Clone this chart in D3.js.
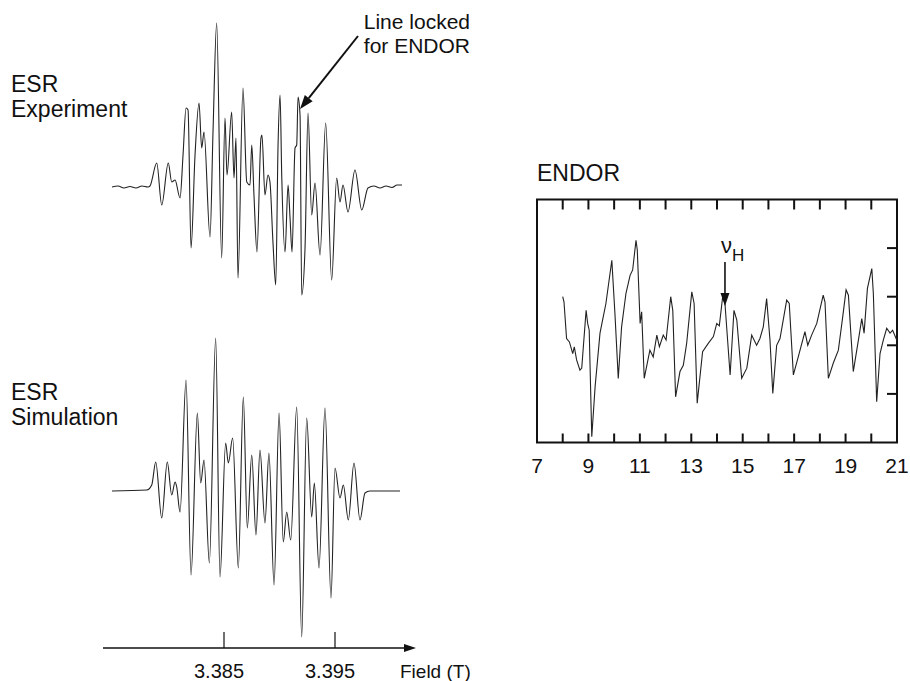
<!DOCTYPE html>
<html>
<head>
<meta charset="utf-8">
<script src="https://cdn.jsdelivr.net/npm/d3@7"></script>
<style>
  body { margin: 0; background: #fff; }
  text { font-family: "Liberation Sans", Arial, Helvetica, sans-serif; fill: #111; }
</style>
</head>
<body>
<script>
// ESR spectra: field in tesla, signal in arbitrary units
const expField = [3.37491, 3.37545, 3.37599, 3.37653, 3.37707, 3.37761, 3.37815, 3.37833, 3.37894, 3.37939,
  3.37998, 3.38029, 3.38059, 3.38104, 3.38131, 3.38158, 3.38176, 3.38203, 3.38239, 3.38275,
  3.38299, 3.38320, 3.38374, 3.38401, 3.38434, 3.38479, 3.38509, 3.38527, 3.38569, 3.38590,
  3.38608, 3.38626, 3.38671, 3.38705, 3.38734, 3.38750, 3.38770, 3.38797, 3.38833, 3.38842,
  3.38869, 3.38896, 3.38914, 3.38941, 3.38966, 3.38987, 3.39005, 3.39020, 3.39050, 3.39077,
  3.39095, 3.39113, 3.39140, 3.39155, 3.39167, 3.39185, 3.39200, 3.39230, 3.39257, 3.39290,
  3.39320, 3.39365, 3.39416, 3.39470, 3.39515, 3.39545, 3.39572, 3.39617, 3.39680, 3.39741,
  3.39797, 3.39851, 3.39905, 3.39960, 3.40014, 3.40059, 3.40104];
const expSignal = [0, 0.1, -0.1, 0.05, -0.1, 0.1, 0, 0.1, 2.4, -1.8,
  2.4, 0.5, 0.7, -1.1, 3.2, 7.9, 7.7, -6.1, 3.2, 8.4,
  3.9, 5.5, -5.0, 5.5, 16.4, -7.1, 6.9, 1.2, 7.5, 0.9,
  4.9, -9.1, 9.9, 0.5, 0.2, 4.2, -0.8, -6.5, 4.9, 5.2,
  -0.8, 1.2, 0.5, -5.5, -9.8, 4.2, 9.2, 1.2, -6.5, 0.2,
  -3.1, -6.5, 3.9, 4.2, 9.0, 7.2, -10.8, -6.1, 7.4, -2.8,
  0.4, -6.8, 6.4, -9.3, 0.9, -1.5, 0.2, -2.5, 1.7, -2.3,
  -0.1, 0.1, -0.1, 0.1, -0.05, 0.2, 0.2];

const simField = [3.37491, 3.37804, 3.37849, 3.37885, 3.37939, 3.37989, 3.38029, 3.38059, 3.38074, 3.38104,
  3.38158, 3.38203, 3.38260, 3.38290, 3.38320, 3.38368, 3.38425, 3.38464, 3.38515, 3.38539,
  3.38578, 3.38629, 3.38674, 3.38710, 3.38750, 3.38788, 3.38824, 3.38869, 3.38905, 3.38951,
  3.38996, 3.39034, 3.39065, 3.39101, 3.39155, 3.39200, 3.39245, 3.39290, 3.39314, 3.39356,
  3.39410, 3.39464, 3.39500, 3.39545, 3.39575, 3.39620, 3.39671, 3.39725, 3.39770, 3.39815,
  3.40086];
const simSignal = [0, 0.1, 0.6, 2.9, -2.7, 2.9, -0.4, 0.9, 0.4, -2.1,
  11.1, -8.4, 7.8, 0.8, 3.1, -7.2, 15.3, -8.6, 4.8, 2.8,
  5.3, -7.7, 9.4, -3.7, 3.6, -4.4, 4.1, -3.2, 3.8, -9.4,
  7.8, -5.1, -2.1, -4.9, 8.4, -14.6, 7.3, -2.6, 0.8, -7.7,
  8.3, -10.7, 2.3, -0.7, 0.6, -2.9, 2.8, -2.9, -0.2, 0,
  0];

const fieldTicks = [3.385, 3.395];

// ENDOR spectrum: frequency in MHz, signal in arbitrary units
const endorFreq = [8.00, 8.05, 8.15, 8.26, 8.39, 8.45, 8.54, 8.67, 8.74, 8.91,
  8.97, 9.03, 9.13, 9.26, 9.45, 9.55, 9.68, 9.91, 10.03, 10.16,
  10.29, 10.46, 10.62, 10.72, 10.85, 10.90, 11.01, 11.07, 11.17, 11.39,
  11.52, 11.66, 11.76, 11.91, 12.02, 12.20, 12.28, 12.39, 12.56, 12.69,
  12.82, 13.02, 13.11, 13.23, 13.44, 13.66, 13.86, 13.99, 14.09, 14.22,
  14.31, 14.51, 14.66, 14.77, 14.96, 15.16, 15.35, 15.54, 15.67, 15.80,
  15.93, 16.06, 16.17, 16.32, 16.45, 16.71, 16.81, 16.97, 17.16, 17.42,
  17.53, 17.68, 17.88, 18.13, 18.20, 18.33, 18.52, 18.72, 18.89, 19.02,
  19.11, 19.30, 19.50, 19.63, 19.72, 19.85, 20.02, 20.08, 20.21, 20.34,
  20.47, 20.60, 20.73, 20.83, 20.99];
const endorSignal = [3.00, 2.89, 2.14, 2.07, 1.83, 1.97, 1.70, 1.49, 1.53, 2.72,
  2.45, 2.31, 0.12, 1.15, 2.25, 2.52, 2.86, 3.75, 2.66, 1.32,
  2.38, 3.07, 3.44, 3.55, 4.16, 3.96, 2.45, 2.69, 1.32, 1.90,
  1.76, 2.21, 1.97, 2.21, 2.11, 3.00, 2.72, 0.94, 1.46, 1.59,
  2.04, 3.10, 2.86, 0.81, 1.87, 2.04, 2.18, 2.45, 2.40, 3.00,
  2.86, 1.39, 2.72, 2.52, 1.32, 1.53, 2.21, 2.00, 2.14, 2.38,
  2.96, 2.11, 1.01, 2.00, 2.14, 2.93, 2.86, 1.39, 1.76, 2.28,
  2.00, 2.21, 2.45, 3.03, 2.89, 1.32, 1.63, 1.90, 2.59, 3.14,
  3.03, 1.46, 2.11, 2.55, 2.25, 3.17, 3.58, 3.07, 0.84, 1.83,
  2.11, 2.35, 2.25, 2.31, 2.11];

const endorLabels = [7, 9, 11, 13, 15, 17, 19, 21];
const endorMinor = [8, 9, 10, 11, 12, 13, 14, 15, 16, 17, 18, 19, 20];
const endorYTicks = [1, 2, 3, 4];
const nuH = 14.31;

const svg = d3.select("body").append("svg")
  .attr("width", 910)
  .attr("height", 681);

// ---- ESR panels ----
const xB = d3.scaleLinear().domain([3.385, 3.395]).range([224, 335]);
const yExp = d3.scaleLinear().domain([-10, 10]).range([287, 87]);
const ySim = d3.scaleLinear().domain([-10, 10]).range([591, 391]);

function esrLine (field, sig, y) {
  return d3.line()
    .x((d, i) => xB(field[i]))
    .y(d => y(d))
    .curve(d3.curveMonotoneX)(sig);
}

svg.append("path")
  .attr("d", esrLine(expField, expSignal, yExp))
  .attr("fill", "none")
  .attr("stroke", "#222")
  .attr("stroke-width", 1.1);

svg.append("path")
  .attr("d", esrLine(simField, simSignal, ySim))
  .attr("fill", "none")
  .attr("stroke", "#222")
  .attr("stroke-width", 1.1);

// labels
function twoLines (x, y, a, b) {
  const t = svg.append("text").attr("x", x).attr("y", y).style("font-size", "23px");
  t.append("tspan").attr("x", x).text(a);
  t.append("tspan").attr("x", x).attr("dy", 25).text(b);
}
twoLines(11, 92, "ESR", "Experiment");
twoLines(11, 400, "ESR", "Simulation");

// field axis with arrow
const axY = 648;
svg.append("line")
  .attr("x1", 103).attr("x2", 408)
  .attr("y1", axY).attr("y2", axY)
  .attr("stroke", "#111").attr("stroke-width", 1.3);
svg.append("path")
  .attr("d", `M416,${axY} L404,${axY - 4} L404,${axY + 4} Z`)
  .attr("fill", "#111");

svg.selectAll(".ftick")
  .data(fieldTicks)
  .enter().append("line")
  .attr("x1", d => xB(d)).attr("x2", d => xB(d))
  .attr("y1", axY).attr("y2", axY - 16)
  .attr("stroke", "#111").attr("stroke-width", 1.2);

svg.selectAll(".flabel")
  .data(fieldTicks)
  .enter().append("text")
  .attr("x", d => xB(d) - 5)
  .attr("y", 678)
  .attr("text-anchor", "middle")
  .style("font-size", "20px")
  .text(d => d3.format(".3f")(d));

svg.append("text")
  .attr("x", 400).attr("y", 678)
  .style("font-size", "19px")
  .text("Field (T)");

// "Line locked for ENDOR" annotation
svg.append("text").attr("x", 470).attr("y", 29)
  .attr("text-anchor", "end").style("font-size", "21px").text("Line locked");
svg.append("text").attr("x", 470).attr("y", 53)
  .attr("text-anchor", "end").style("font-size", "21px").text("for ENDOR");

const tip = [xB(3.39167) + 2, yExp(9.0) + 12];
const tail = [358, 36];
const ang = Math.atan2(tip[1] - tail[1], tip[0] - tail[0]);
const hl = 14, hw = 5;
const bx = tip[0] - hl * Math.cos(ang), by = tip[1] - hl * Math.sin(ang);
svg.append("line")
  .attr("x1", tail[0]).attr("y1", tail[1])
  .attr("x2", bx).attr("y2", by)
  .attr("stroke", "#111").attr("stroke-width", 2);
svg.append("path")
  .attr("d", `M${tip[0]},${tip[1]} L${bx + hw * Math.sin(ang)},${by - hw * Math.cos(ang)} L${bx - hw * Math.sin(ang)},${by + hw * Math.cos(ang)} Z`)
  .attr("fill", "#111");

// ---- ENDOR panel ----
const xE = d3.scaleLinear().domain([7, 21]).range([537, 897]);
const yE = d3.scaleLinear().domain([0, 5]).range([442.5, 199.5]);

svg.append("text")
  .attr("x", 537).attr("y", 181)
  .style("font-size", "23px")
  .text("ENDOR");

svg.append("rect")
  .attr("x", xE(7)).attr("y", yE(5))
  .attr("width", xE(21) - xE(7))
  .attr("height", yE(0) - yE(5))
  .attr("fill", "none")
  .attr("stroke", "#111")
  .attr("stroke-width", 2);

svg.selectAll(".etb")
  .data(endorMinor)
  .enter().append("line")
  .attr("x1", d => xE(d)).attr("x2", d => xE(d))
  .attr("y1", yE(0)).attr("y2", yE(0) - 9)
  .attr("stroke", "#111").attr("stroke-width", 2);

svg.selectAll(".ett")
  .data(endorMinor)
  .enter().append("line")
  .attr("x1", d => xE(d)).attr("x2", d => xE(d))
  .attr("y1", yE(5)).attr("y2", yE(5) + 10)
  .attr("stroke", "#111").attr("stroke-width", 2);

svg.selectAll(".ety")
  .data(endorYTicks)
  .enter().append("line")
  .attr("x1", xE(21)).attr("x2", xE(21) - 10)
  .attr("y1", d => yE(d)).attr("y2", d => yE(d))
  .attr("stroke", "#111").attr("stroke-width", 2);

svg.selectAll(".elab")
  .data(endorLabels)
  .enter().append("text")
  .attr("x", d => xE(d))
  .attr("y", 473)
  .attr("text-anchor", "middle")
  .style("font-size", "21px")
  .text(d => d);

svg.append("path")
  .attr("d", d3.line()
    .x((d, i) => xE(endorFreq[i]))
    .y(d => yE(d))(endorSignal))
  .attr("fill", "none")
  .attr("stroke", "#222")
  .attr("stroke-width", 1.1);

// nu_H marker
const nx = xE(nuH);
svg.append("line")
  .attr("x1", nx).attr("x2", nx)
  .attr("y1", 262).attr("y2", 294)
  .attr("stroke", "#111").attr("stroke-width", 1.6);
svg.append("path")
  .attr("d", `M${nx},306 L${nx - 4.5},293 L${nx + 4.5},293 Z`)
  .attr("fill", "#111");
const nl = svg.append("text").attr("x", nx - 4).attr("y", 253).style("font-size", "22px");
nl.append("tspan").text("ν");
nl.append("tspan").attr("dy", 8).style("font-size", "17px").text("H");
</script>
</body>
</html>
